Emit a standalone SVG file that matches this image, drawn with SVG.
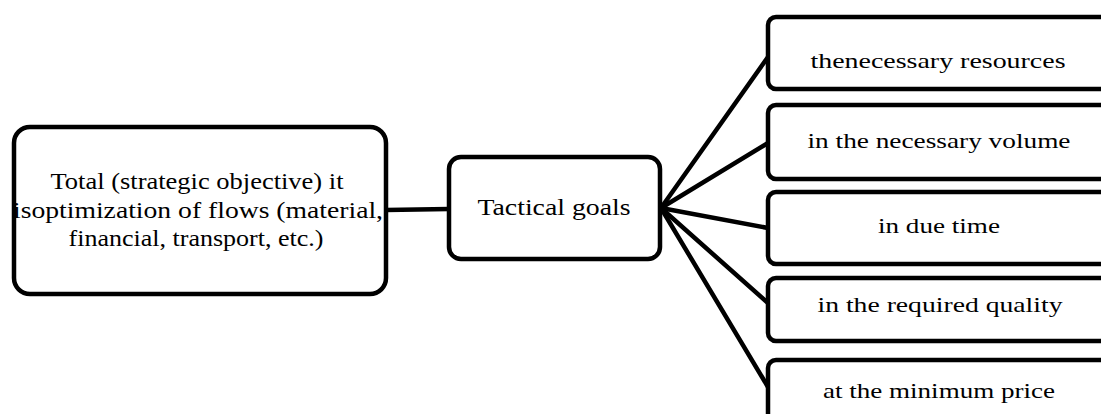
<svg xmlns="http://www.w3.org/2000/svg" width="1101" height="414" viewBox="0 0 1101 414">
<style>
.box{fill:#fff;stroke:#000;stroke-width:4.5}
.t{font-family:"Liberation Serif","Times New Roman",serif;fill:#000;text-anchor:middle}
.l{font-size:24px}
.r{font-size:21px}
.c{stroke:#000;stroke-width:4.5;fill:none;stroke-linecap:round}
</style>
<rect width="1101" height="414" fill="#fff"/>
<g id="connectors">
<line class="c" x1="386" y1="210" x2="449" y2="209"/>
<line class="c" x1="661" y1="208" x2="768" y2="57"/>
<line class="c" x1="661" y1="208" x2="768" y2="143"/>
<line class="c" x1="661" y1="208" x2="768" y2="228"/>
<line class="c" x1="661" y1="208" x2="768" y2="303"/>
<line class="c" x1="661" y1="208" x2="768" y2="387"/>
</g>
<g id="strategic">
<rect class="box" x="14" y="127" width="372" height="167" rx="16"/>
<text class="t l" x="197" y="189" textLength="293" lengthAdjust="spacingAndGlyphs">Total (strategic objective) it</text>
<text class="t l" x="198" y="218" textLength="370" lengthAdjust="spacingAndGlyphs">isoptimization of flows (material,</text>
<text class="t l" x="196" y="246" textLength="255" lengthAdjust="spacingAndGlyphs">financial, transport, etc.)</text>
</g>
<g id="tactical">
<rect class="box" x="449" y="157" width="211" height="102" rx="12"/>
<text class="t l" x="554" y="215" textLength="153" lengthAdjust="spacingAndGlyphs">Tactical goals</text>
</g>
<g id="resources">
<rect class="box" x="768" y="17" width="345" height="72" rx="8"/>
<text class="t r" x="938" y="68" textLength="255" lengthAdjust="spacingAndGlyphs">thenecessary resources</text>
</g>
<g id="volume">
<rect class="box" x="768" y="105" width="345" height="74" rx="8"/>
<text class="t r" x="939" y="148" textLength="263" lengthAdjust="spacingAndGlyphs">in the necessary volume</text>
</g>
<g id="time">
<rect class="box" x="768" y="192" width="345" height="72" rx="8"/>
<text class="t r" x="939" y="233" textLength="122" lengthAdjust="spacingAndGlyphs">in due time</text>
</g>
<g id="quality">
<rect class="box" x="768" y="278" width="345" height="63" rx="8"/>
<text class="t r" x="940" y="312" textLength="245" lengthAdjust="spacingAndGlyphs">in the required quality</text>
</g>
<g id="price">
<rect class="box" x="768" y="360" width="345" height="80" rx="8"/>
<text class="t r" x="939" y="398" textLength="232" lengthAdjust="spacingAndGlyphs">at the minimum price</text>
</g>
</svg>
